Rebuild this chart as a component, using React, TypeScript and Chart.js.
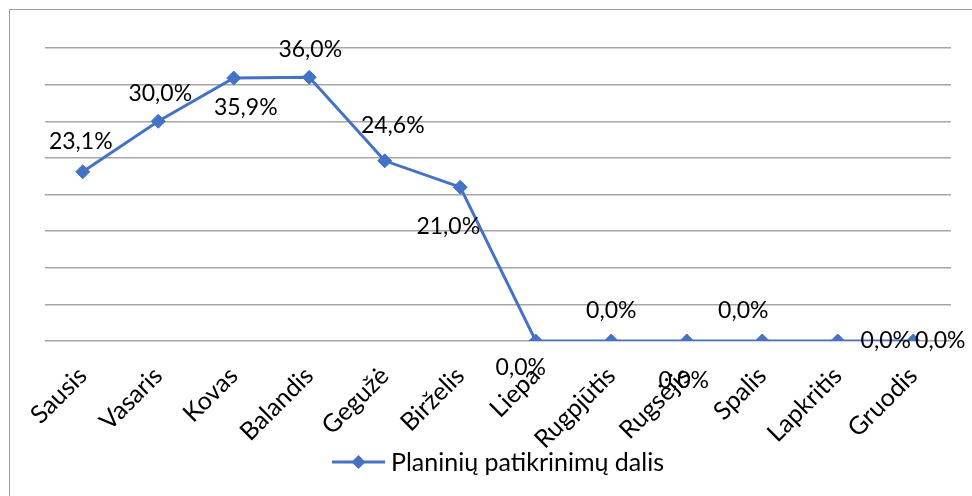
import React, { useEffect, useRef } from "react";
import { Chart, registerables } from "chart.js";

Chart.register(...registerables);

const categories = ["Sausis", "Vasaris", "Kovas", "Balandis", "Gegužė", "Birželis", "Liepa", "Rugpjūtis", "Rugsėjis", "Spalis", "Lapkritis", "Gruodis"];
const values = [23.1, 30.0, 35.9, 36.0, 24.6, 21.0, 0, 0, 0, 0, 0, 0];
const seriesName = "Planinių patikrinimų dalis";
const yMin = 0;
const yMax = 40;
const yStep = 5;

// label offsets (style): dx, dy from the point
const labelOffsets: [number, number][] = [
  [-2, -30], [2, -28], [12, 30], [1, -28], [8, -35], [-12, 39],
  [-15, 27], [0, -30], [-3, 40], [-19, -30], [48, 0], [27, 0],
];

const FONT = "Lato, 'Open Sans', sans-serif";
const BLUE = "#4472C4";

const fmt = (v: number) => v.toFixed(1).replace(".", ",") + "%";

const labelsPlugin = {
  id: "pointLabels",
  afterDatasetsDraw(chart: any) {
    const ctx = chart.ctx;
    const meta = chart.getDatasetMeta(0);
    ctx.save();
    ctx.font = `23px ${FONT}`;
    ctx.fillStyle = "#000";
    ctx.textAlign = "center";
    ctx.textBaseline = "middle";
    meta.data.forEach((pt: any, i: number) => {
      const [dx, dy] = labelOffsets[i];
      ctx.fillText(fmt(values[i]), pt.x + dx, pt.y + dy);
    });
    ctx.restore();
  },
};

const legendPlugin = {
  id: "customLegend",
  afterDraw(chart: any) {
    const ctx = chart.ctx;
    const area = chart.chartArea;
    ctx.save();
    ctx.font = `25px ${FONT}`;
    const tw = ctx.measureText(seriesName).width;
    const lineW = 53;
    const gap = 6;
    const total = lineW + gap + tw;
    const cx = (area.left + area.right) / 2;
    const x0 = cx - total / 2;
    const y = 462;
    ctx.strokeStyle = BLUE;
    ctx.lineWidth = 3;
    ctx.beginPath();
    ctx.moveTo(x0, y);
    ctx.lineTo(x0 + lineW, y);
    ctx.stroke();
    const mx = x0 + lineW / 2;
    ctx.fillStyle = BLUE;
    ctx.beginPath();
    ctx.moveTo(mx - 7, y);
    ctx.lineTo(mx, y - 7);
    ctx.lineTo(mx + 7, y);
    ctx.lineTo(mx, y + 7);
    ctx.closePath();
    ctx.fill();
    ctx.fillStyle = "#000";
    ctx.textAlign = "left";
    ctx.textBaseline = "middle";
    ctx.fillText(seriesName, x0 + lineW + gap, y + 1);
    ctx.restore();
  },
};

export default function App() {
  const ref = useRef<HTMLCanvasElement>(null);
  useEffect(() => {
    document.body.style.margin = "0";
    const chart = new Chart(ref.current!, {
      type: "line",
      data: {
        labels: categories,
        datasets: [
          {
            label: seriesName,
            data: values,
            borderColor: BLUE,
            backgroundColor: BLUE,
            borderWidth: 3,
            pointStyle: "rectRot",
            pointRadius: 7,
            pointBorderWidth: 1,
            pointBackgroundColor: BLUE,
            pointBorderColor: BLUE,
            tension: 0,
          },
        ],
      },
      options: {
        animation: false,
        responsive: false,
        layout: { padding: { left: 45, right: 21, top: 48, bottom: 0 }, autoPadding: false },
        plugins: { legend: { display: false }, tooltip: { enabled: false } },
        scales: {
          x: {
            offset: true,
            grid: { display: false },
            border: { display: false },
            ticks: {
              color: "#000",
              font: { family: FONT, size: 25 },
              minRotation: 45,
              maxRotation: 45,
              autoSkip: false,
              padding: 12,
            },
            afterFit: (s: any) => { s.height = 155; },
          },
          y: {
            min: yMin,
            max: yMax,
            ticks: { stepSize: yStep, display: false },
            grid: { color: "#a6a6a6", lineWidth: 1.5, drawTicks: false },
            border: { display: false },
            afterFit: (s: any) => { s.width = 0; },
          },
        },
      },
      plugins: [labelsPlugin, legendPlugin],
    });
    return () => chart.destroy();
  }, []);
  return (
    <div style={{ position: "relative", width: 972, height: 496, overflow: "hidden" }}>
      <div style={{ position: "absolute", left: 9, top: 9, width: 980, height: 500, border: "1px solid #a0a0a0", boxSizing: "border-box" }} />
      <canvas ref={ref} width={972} height={496} style={{ position: "absolute", left: 0, top: 0 }} />
    </div>
  );
}
